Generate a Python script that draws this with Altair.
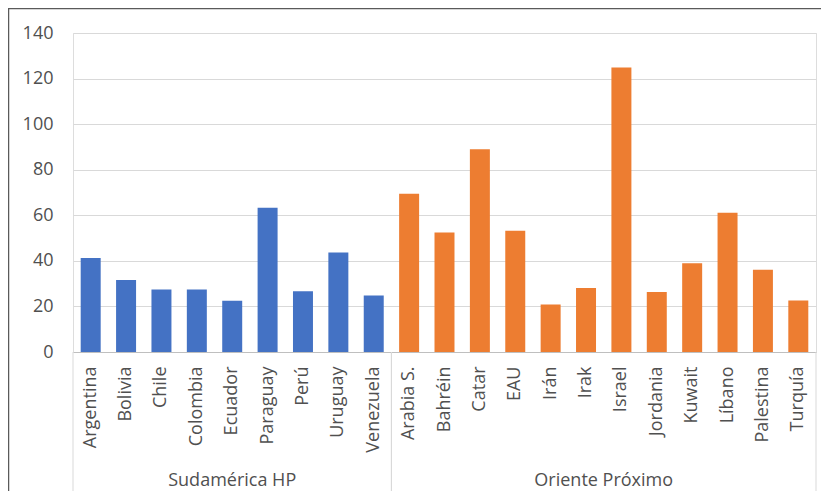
import altair as alt
import pandas as pd

groups = ["Sudamérica HP", "Oriente Próximo"]
sa_countries = ["Argentina", "Bolivia", "Chile", "Colombia", "Ecuador",
                "Paraguay", "Perú", "Uruguay", "Venezuela"]
sa_values = [41.3, 31.6, 27.4, 27.4, 22.5, 63.3, 26.7, 43.7, 24.8]
op_countries = ["Arabia S.", "Bahréin", "Catar", "EAU", "Irán", "Irak",
                "Israel", "Jordania", "Kuwait", "Líbano", "Palestina", "Turquía"]
op_values = [69.5, 52.5, 89.0, 53.2, 20.8, 28.1, 124.9, 26.3, 39.0, 61.1, 36.1, 22.6]
colors = ["#4472C4", "#ED7D31"]
y_ticks = [0, 20, 40, 60, 80, 100, 120, 140]

rows = []
for g, cs, vs in [(groups[0], sa_countries, sa_values), (groups[1], op_countries, op_values)]:
    for c, v in zip(cs, vs):
        rows.append({"group": g, "country": c, "value": v, "idx": len(rows)})
df = pd.DataFrame(rows)
n = len(df)

W, H = 743, 319
FONT = "Open Sans"
TXT = "#505050"
GRID = "#d9d9d9"

base = alt.Chart(df)

bars = base.mark_bar().encode(
    x=alt.X("country:N", sort=list(df["country"]),
            scale=alt.Scale(paddingInner=0.435, paddingOuter=0.2175),
            axis=alt.Axis(title=None, labelAngle=-90, labelPadding=14, ticks=False,
                          domainColor="#bfbfbf", labelFontSize=18, labelColor=TXT,
                          labelFont=FONT, grid=False)),
    y=alt.Y("value:Q", scale=alt.Scale(domain=[0, 140], nice=False),
            axis=alt.Axis(values=y_ticks, title=None, ticks=False, domain=False,
                          gridColor=GRID, labelPadding=20, labelFontSize=18,
                          labelColor=TXT, labelFont=FONT)),
    color=alt.Color("group:N", scale=alt.Scale(domain=groups, range=colors), legend=None),
)

xq = alt.X("pos:Q", scale=alt.Scale(domain=[-0.5, n - 0.5], nice=False, zero=False), axis=None)

group_text = base.transform_aggregate(
    lo="min(idx)", hi="max(idx)", groupby=["group"]
).transform_calculate(
    pos="(datum.lo + datum.hi) / 2"
).mark_text(font=FONT, fontSize=18, color=TXT, baseline="middle").encode(
    x=xq, y=alt.value(H + 129), text="group:N"
)

seps = base.transform_aggregate(
    lo="min(idx)", hi="max(idx)", groupby=["group"]
).transform_fold(["lo", "hi"], as_=["side", "v"]).transform_calculate(
    pos="datum.side == 'lo' ? datum.v - 0.5 : datum.v + 0.5"
).mark_rule(color=GRID, strokeWidth=1).encode(
    x=xq, y=alt.value(H), y2=alt.value(H + 142)
)

frame_src = alt.Chart(pd.DataFrame({"a": [0]}))
frame_top = frame_src.mark_rule(color="#5a5a5a", strokeWidth=1.5).encode(
    x=alt.value(-65), x2=alt.value(W + 20), y=alt.value(-24.5)
)
frame_left = frame_src.mark_rule(color="#5a5a5a", strokeWidth=1.5).encode(
    x=alt.value(-64.5), y=alt.value(-25), y2=alt.value(H + 200)
)

chart = alt.layer(
    frame_top, frame_left, bars, alt.layer(group_text, seps)
).resolve_scale(x="independent").properties(
    width=W, height=H,
    autosize=alt.AutoSizeParams(type="none"),
    padding={"left": 65, "top": 25, "right": 5, "bottom": 139},
).configure_view(stroke=None).configure(background="white")

chart.save("out.html", embed_options={"renderer": "svg", "actions": False})
